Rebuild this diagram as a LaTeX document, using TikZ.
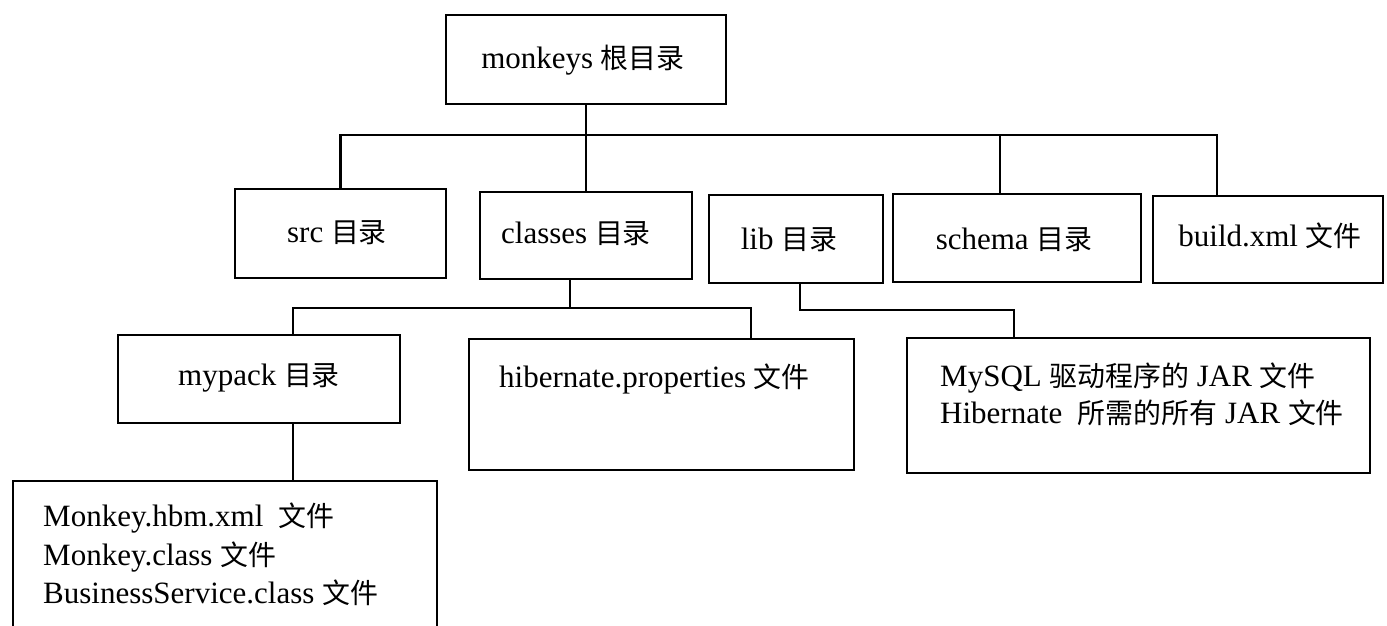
\documentclass[tikz,border=0pt]{standalone}
\usepackage{fontspec}
\setmainfont{Liberation Serif}
\newfontfamily\cjk[Scale=0.9]{Noto Sans CJK SC}
\begin{document}
\begin{tikzpicture}[x=1pt,y=-1pt,
  box/.style={draw=black,line width=2.2pt,rectangle,inner sep=0pt,outer sep=0pt,fill=none},
  txt/.style={inner sep=0pt,font=\fontsize{31}{36}\selectfont},
  wire/.style={draw=black,line width=2.2pt}]
\useasboundingbox (0,0) rectangle (1387,626);
% boxes
\node[box,minimum width=280pt,minimum height=89pt] (root) at (586,59.5) {};
\node[box,minimum width=211pt,minimum height=89pt] (src) at (340.5,233.5) {};
\node[box,minimum width=212pt,minimum height=87pt] (classes) at (586,235.5) {};
\node[box,minimum width=174pt,minimum height=88pt] (lib) at (796,239) {};
\node[box,minimum width=248pt,minimum height=88pt] (schema) at (1017,238) {};
\node[box,minimum width=230pt,minimum height=87pt] (build) at (1268,239.5) {};
\node[box,minimum width=282pt,minimum height=88pt] (mypack) at (259,379) {};
\node[box,minimum width=385pt,minimum height=131pt] (hib) at (661.5,404.5) {};
\node[box,minimum width=463pt,minimum height=135pt] (mysql) at (1138.5,405.5) {};
\node[box,minimum width=424pt,minimum height=159pt] (files) at (225,560.5) {};
% texts
\node[txt] (rootT) at (583,60) {monkeys {\cjk 根目录}};
\node[txt] (srcT) at (337,233) {src {\cjk 目录}};
\node[txt] (classesT) at (576,234) {classes {\cjk 目录}};
\node[txt] (libT) at (789,240) {lib {\cjk 目录}};
\node[txt] (schemaT) at (1014,240) {schema {\cjk 目录}};
\node[txt] (buildT) at (1270,236) {build.xml {\cjk 文件}};
\node[txt] (mypackT) at (259,378) {mypack {\cjk 目录}};
\node[txt,anchor=west] (hibT) at (499,379) {hibernate.properties {\cjk 文件}};
\node[txt,anchor=west] (mysqlT1) at (940,378) {MySQL {\cjk 驱动程序的} JAR {\cjk 文件}};
\node[txt,anchor=west] (mysqlT2) at (940,413) {Hibernate \ {\cjk 所需的所有} JAR {\cjk 文件}};
\node[txt,anchor=west] (filesT1) at (43,518) {Monkey.hbm.xml \ {\cjk 文件}};
\node[txt,anchor=west] (filesT2) at (43,557) {Monkey.class {\cjk 文件}};
\node[txt,anchor=west] (filesT3) at (43,593) {BusinessService.class {\cjk 文件}};
% connectors
\coordinate (bus) at (586,135);
\draw[wire] (root.south) -- (classes.north);
\draw[wire] (src.north) |- (bus) -| ([xshift=-51pt]build.north);
\draw[wire] (bus) -| ([xshift=-17pt]schema.north);
\coordinate (cbus) at (570,308);
\draw[wire] ([xshift=-16pt]classes.south) -- (cbus);
\draw[wire] ([xshift=34pt]mypack.north) |- (cbus) -| ([xshift=89.5pt]hib.north);
\draw[wire] ([xshift=34pt]mypack.south) -- ([xshift=68pt]files.north);
\coordinate (lbus) at (800,310);
\draw[wire] ([xshift=4pt]lib.south) -- (lbus) -| ([xshift=-124.5pt]mysql.north);
\end{tikzpicture}
\end{document}
